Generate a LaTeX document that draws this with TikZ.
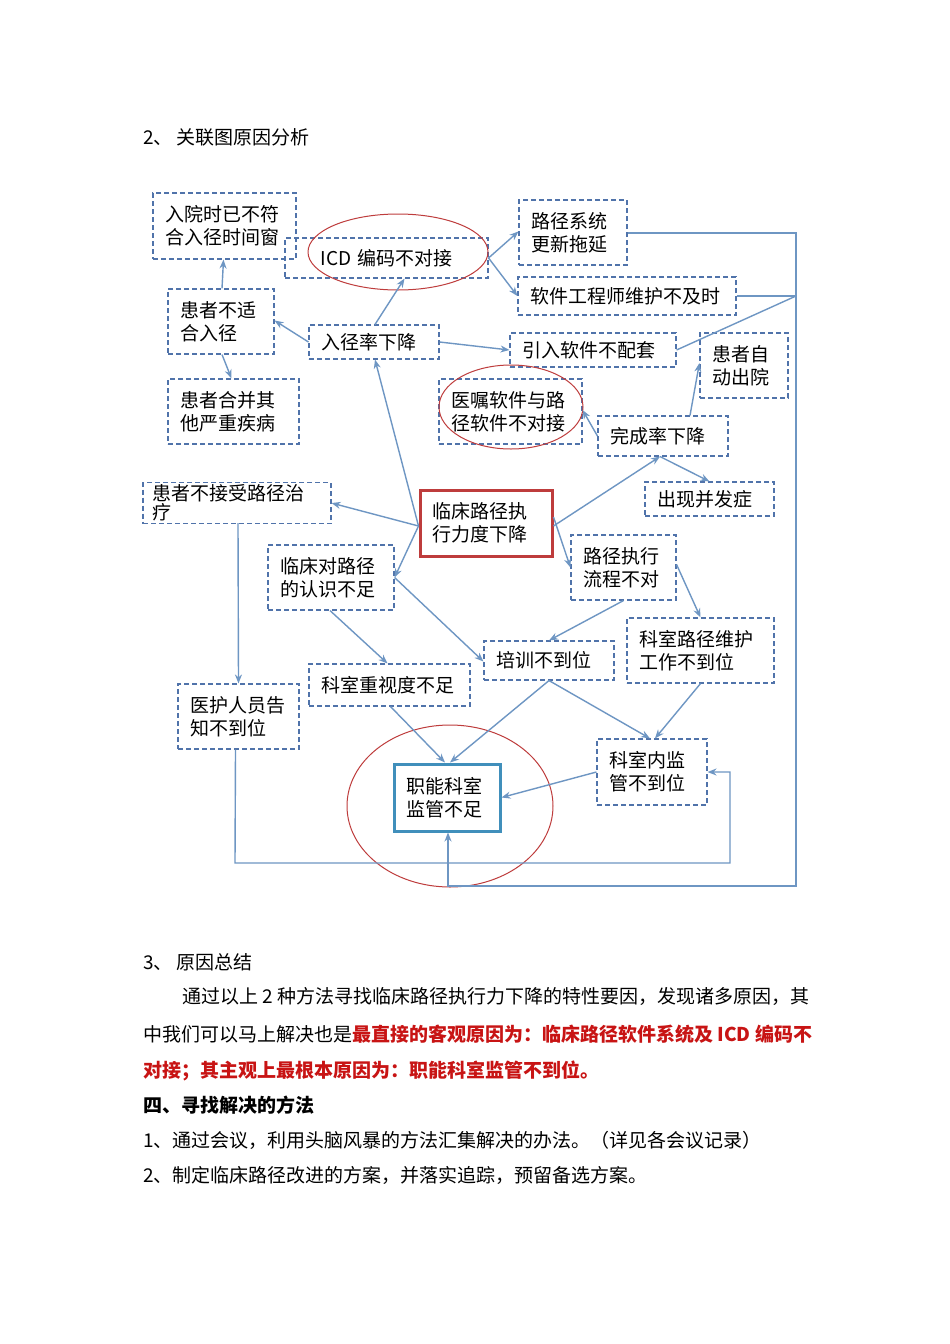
\documentclass[tikz,border=0pt]{standalone}
\usepackage{fontspec}
\setmainfont{Noto Sans CJK SC}
\usetikzlibrary{arrows.meta,calc}
\definecolor{bxc}{RGB}{80,115,170}
\definecolor{arc}{RGB}{110,150,195}
\definecolor{rc}{RGB}{190,60,60}
\definecolor{tr}{RGB}{200,20,20}
\begin{document}
\begin{tikzpicture}[x=1pt,y=-1pt,
 bx/.style={draw=bxc,dashed,dash pattern=on 5pt off 3pt,line width=1.1pt,inner xsep=12pt,inner ysep=0pt,align=left,font=\fontsize{19}{23}\selectfont},
 ar/.style={draw=arc,line width=1.4pt,-{Stealth[length=9pt,width=7pt]}},
 ln/.style={draw=arc,line width=1.4pt},
 el/.style={draw=rc,line width=1pt},
 tx/.style={anchor=west,inner sep=0pt,font=\fontsize{19}{22}\selectfont}]
\useasboundingbox (0,0) rectangle (950,1344);
\fill[white] (0,0) rectangle (950,1344);
\node[tx] (h2) at (143,137) {2、 关联图原因分析};
\node[bx,minimum width=143pt,minimum height=66pt,text width=119pt] (A) at (224.5,226) {入院时已不符\\合入径时间窗};
\node[bx,minimum width=203pt,minimum height=40pt,text width=179pt,align=center] (B) at (386.5,258) {ICD 编码不对接};
\node[bx,minimum width=108pt,minimum height=65pt,text width=84pt] (C) at (573,232.5) {路径系统\\更新拖延};
\node[bx,minimum width=218pt,minimum height=38pt,text width=194pt] (D) at (627,296) {软件工程师维护不及时};
\node[bx,minimum width=106pt,minimum height=65pt,text width=82pt] (E) at (221,321.5) {患者不适\\合入径};
\node[bx,minimum width=130pt,minimum height=34pt,text width=106pt] (F) at (374,342) {入径率下降};
\node[bx,minimum width=166pt,minimum height=34pt,text width=142pt] (G) at (593,350) {引入软件不配套};
\node[bx,minimum width=88pt,minimum height=65pt,text width=64pt] (H) at (744,365.5) {患者自\\动出院};
\node[bx,minimum width=131pt,minimum height=65pt,text width=107pt] (I) at (233.5,411.5) {患者合并其\\他严重疾病};
\node[bx,minimum width=143pt,minimum height=65pt,text width=119pt] (J) at (510.5,411.5) {医嘱软件与路\\径软件不对接};
\node[bx,minimum width=130pt,minimum height=40pt,text width=106pt] (K) at (663,436) {完成率下降};
\node[bx,minimum width=129pt,minimum height=34pt,text width=105pt] (L) at (709.5,499) {出现并发症};
\node[bx,minimum width=188pt,minimum height=41pt,text width=170pt,inner xsep=9pt,anchor=north,inner ysep=1pt] (M) at (237,482) {患者不接受路径治\\[-4pt]疗};
\node[draw=rc,line width=3pt,minimum width=132pt,minimum height=66pt,text width=108pt,inner xsep=12pt,align=left,font=\fontsize{19}{23}\selectfont] (N) at (486,523) {临床路径执\\行力度下降};
\node[bx,minimum width=126pt,minimum height=65pt,text width=102pt] (O) at (331,577.5) {临床对路径\\的认识不足};
\node[bx,minimum width=105pt,minimum height=65pt,text width=81pt] (P) at (623.5,567.5) {路径执行\\流程不对};
\node[bx,minimum width=147pt,minimum height=65pt,text width=123pt] (Q) at (700.5,650.5) {科室路径维护\\工作不到位};
\node[bx,minimum width=130pt,minimum height=39pt,text width=106pt] (R) at (549,660.5) {培训不到位};
\node[bx,minimum width=161pt,minimum height=42pt,text width=137pt] (S) at (389.5,685) {科室重视度不足};
\node[bx,minimum width=121pt,minimum height=65pt,text width=97pt] (T) at (238.5,716.5) {医护人员告\\知不到位};
\node[bx,minimum width=110pt,minimum height=66pt,text width=86pt] (U) at (652,772) {科室内监\\管不到位};
\node[draw=bxc!80!cyan,line width=3pt,minimum width=106pt,minimum height=67pt,text width=82pt,inner xsep=12pt,align=left,font=\fontsize{19}{23}\selectfont] (V) at (447,797.5) {职能科室\\监管不足};
% ellipses
\draw[el] (398,252) ellipse [x radius=90,y radius=38];
\draw[el] (511,407) ellipse [x radius=72,y radius=42];
\draw[el] (450,806) ellipse [x radius=103,y radius=81];
% arrows
\draw[ar] ([xshift=1pt]F.north) -- ([xshift=18pt]B.south);
\draw[ar] ([xshift=1pt]E.north) -- ([xshift=-1pt]A.south);
\draw[ar] (F.west) -- ([yshift=1pt]E.east);
\draw[ar] ([xshift=1pt]E.south) -- ([xshift=-2pt]I.north);
\draw[ar] (B.east) -- ([yshift=1pt]C.west);
\draw[ar] (B.east) -- (D.west);
\draw[ar] (F.east) -- (G.west);
\draw[ar] ([yshift=-3pt]N.west) -- ([xshift=1pt]F.south);
\draw[ar] ([yshift=-3pt]N.west) -- (M.east);
\draw[ar] ([yshift=-3pt]N.west) -- (O.east);
\draw[ar] ([yshift=-3pt]N.east) -- ([xshift=-3pt]K.south);
\draw[ar] ([yshift=6pt]N.east) -- (P.west);
\draw[ar] ([xshift=27pt]K.north) -- ([yshift=2.5pt]H.west);
\draw[ar] (K.west) -- ([yshift=1.5pt]J.east);
\draw[ar] ([xshift=-3pt]K.south) -- (L.north);
\draw[ar] (238,523) -- (T.north);
\draw[ar] ([xshift=-1pt]O.south) -- ([xshift=-2pt]S.north);
\draw[ar] (O.east) -- ([yshift=-1pt]R.west);
\draw[ar] (P.south) -- (R.north);
\draw[ar] ([yshift=3pt]P.east) -- (Q.north);
\draw[ar] (R.south) -- ([xshift=3pt]V.north);
\draw[ar] (R.south) -- ([xshift=-2pt]U.north);
\draw[ar] (Q.south) -- ([xshift=3pt]U.north);
\draw[ar] ([xshift=1pt]S.south) -- ([xshift=-2pt]V.north);
\draw[ar] (U.west) -- (V.east);
\coordinate (t1) at (235,863);
\coordinate (t2) at (730,863);
\draw[ar] ([xshift=-3pt]T.south) -- (t1) -- (t2) -- (730,772) -- (U.east);
\coordinate (c1) at (796,233);
\coordinate (c2) at (796,886);
\draw[ar] (C.east |- c1) -- (c1) -- (c2) -- (448,886) -- ([xshift=1pt]V.south);
\draw[ln] (D.east) -- (796,296);
\draw[ln] (G.east) -- (796,296);
% text below
\node[tx] (h3) at (143,962) {3、 原因总结};
\node[tx] (p1) at (182,996) {通过以上 2 种方法寻找临床路径执行力下降的特性要因，发现诸多原因，其};
\node[tx] (p2) at (143,1034) {中我们可以马上解决也是\textcolor{tr}{\bfseries 最直接的客观原因为：临床路径软件系统及 ICD 编码不}};
\node[tx] (p3) at (143,1071) {\textcolor{tr}{\bfseries 对接；其主观上最根本原因为：职能科室监管不到位。}};
\node[tx,font=\fontsize{19}{22}\selectfont\bfseries] (h4) at (143,1105) {四、寻找解决的方法};
\node[tx] (p4) at (143,1140) {1、通过会议，利用头脑风暴的方法汇集解决的办法。（详见各会议记录）};
\node[tx] (p5) at (143,1175) {2、制定临床路径改进的方案，并落实追踪，预留备选方案。};
\end{tikzpicture}
\end{document}
